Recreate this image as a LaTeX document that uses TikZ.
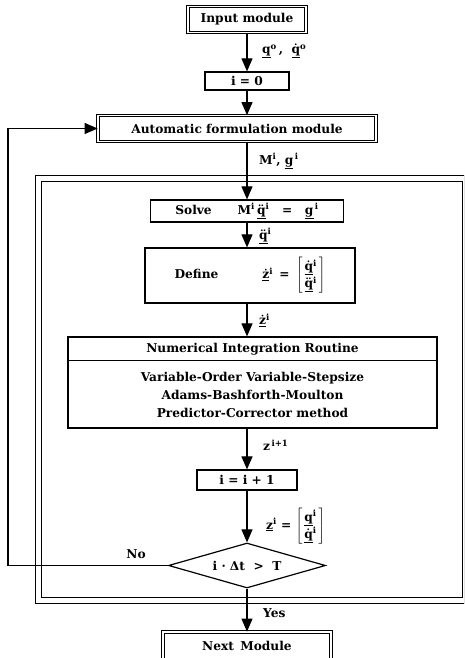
\documentclass[tikz,border=0pt]{standalone}
\usepackage{fontspec}
\setmainfont{DejaVu Serif}
\usetikzlibrary{arrows.meta,shapes.geometric}
\newcommand\fsz{\fontsize{12.2}{18}\selectfont\bfseries}
\newcommand\sx[1]{\textsuperscript{#1}}
\newcommand\uq[1]{\underline{#1}}
\newcommand\vmat[2]{$\left[\begin{array}{@{\,}c@{\,}}\mbox{#1}\\[-1pt]\mbox{#2}\end{array}\right]$}
\begin{document}
\begin{tikzpicture}[x=1pt,y=-1pt,
  box/.style={draw, line width=1.2pt, inner sep=0pt, font=\fsz},
  dbox/.style={draw, double, double distance=1.8pt, line width=0.75pt, inner sep=0pt, font=\fsz},
  txt/.style={inner sep=0pt, font=\fsz},
  lbl/.style={inner sep=0pt, anchor=west, font=\fsz},
  arr/.style={-{Triangle[length=13pt,width=11pt]}, line width=1.1pt}]
\useasboundingbox (0,0) rectangle (464,658);
\clip (0,0) rectangle (464,658);
% outer frame
\draw[double, double distance=4.5pt, line width=0.8pt] (38.5,178.5) rectangle (465,600.5);
% nodes
\node[dbox, minimum width=118pt, minimum height=26pt] (inp) at (247,19.5) {Input module};
\node[box, minimum width=84pt, minimum height=18pt] (i0) at (247,81) {i = 0};
\node[dbox, minimum width=278pt, minimum height=26pt] (auto) at (237,128.5) {Automatic formulation module};
\node[box, minimum width=193pt, minimum height=22pt] (solve) at (247,211)
  {Solve\hspace{26pt}M\sx{i}\,\uq{\"q}\sx{i} \ \ = \ \ \uq{g}\sx{\,i}};
\node[box, minimum width=210pt, minimum height=55pt] (def) at (250,275.5)
  {Define\hspace{44pt}\uq{\.z}\sx{i} \,=\, \vmat{\uq{\.q}\sx{i}}{\uq{\"q}\sx{i}}};
\node[box, minimum width=369pt, minimum height=91pt] (nir) at (252.5,382.5) {};
\node[txt] (nirt) at (252.5,349.5) {Numerical Integration Routine};
\draw[line width=1.1pt] ([yshift=-24pt]nir.north west) -- ([yshift=-24pt]nir.north east);
\node[txt, align=center] (nirb) at (252.5,395) {Variable-Order Variable-Stepsize\\Adams-Bashforth-Moulton\\Predictor-Corrector method};
\node[box, minimum width=100pt, minimum height=20pt] (ii) at (247,480) {i = i + 1};
\node[draw, diamond, aspect=3.5, line width=1.2pt, inner sep=0pt, minimum width=157pt, minimum height=45pt, font=\fsz] (dia) at (247,565.5) {i · Δt \ > \ T};
\node[dbox, minimum width=168pt, minimum height=28pt] (next) at (247,646) {Next\, Module};
% labels
\node[lbl] (l0) at (262,51) {\uq{q}\sx{o}\,,\ \ \uq{\.q}\sx{o}};
\node[lbl] (l1) at (259,161) {M\sx{i}, \uq{g}\sx{\,i}};
\node[lbl] (l2) at (259,236) {\uq{\"q}\sx{i}};
\node[lbl] (l3) at (259,320) {\uq{\.z}\sx{i}};
\node[lbl] (l4) at (263,445) {z\sx{\,i+1}};
\node[lbl] (l5) at (266,526) {\uq{z}\sx{i} = \vmat{\uq{q}\sx{i}}{\uq{\.q}\sx{i}}};
\node[txt] (lno) at (136,554) {No};
\node[lbl] (lyes) at (263,613) {Yes};
% connectors
\draw[arr] (inp.south) -- (i0.north);
\draw[arr] (i0.south) -- (i0.south |- auto.north);
\draw[arr] (auto.south -| solve.north) -- (solve.north);
\draw[arr] (solve.south) -- (solve.south |- def.north);
\draw[arr] (def.south -| solve.south) -- (nir.north -| solve.south);
\draw[arr] (nir.south -| ii.north) -- (ii.north);
\draw[arr] (ii.south) -- (dia.north);
\draw[arr] (dia.south) -- (next.north);
\coordinate (fb1) at (8,565.5);
\coordinate (fb2) at (8,128.5);
\draw[arr] (dia.west) -- (fb1) -- (fb2) -- (auto.west);
\end{tikzpicture}
\end{document}
